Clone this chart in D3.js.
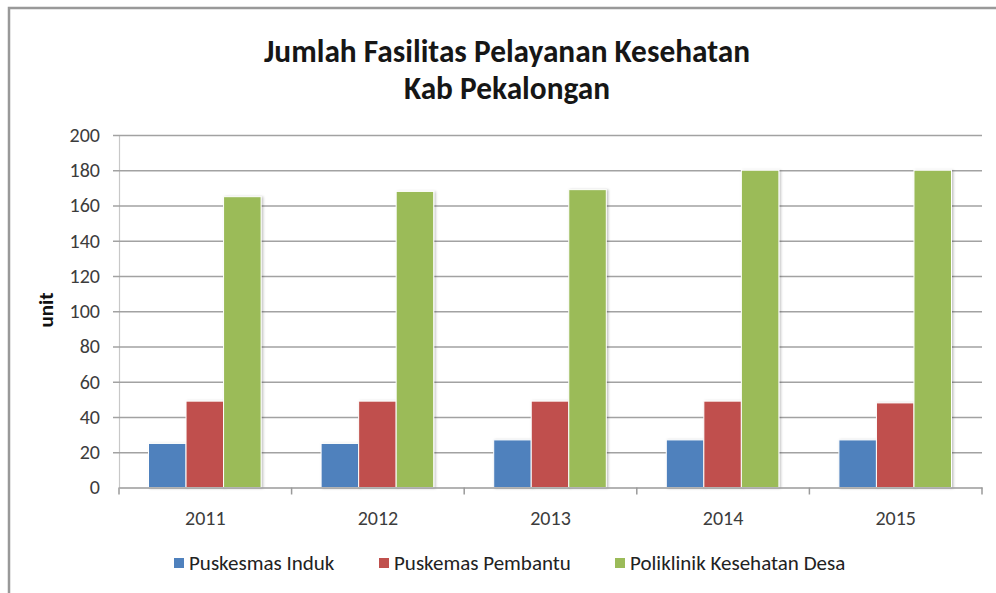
<!DOCTYPE html>
<html>
<head>
<meta charset="utf-8">
<script src="https://cdn.jsdelivr.net/npm/d3@7"></script>
<style>
  html, body { margin: 0; padding: 0; background: #fff; }
  svg { display: block; }
  text { font-family: Carlito, Lato, "Open Sans", sans-serif; }
</style>
</head>
<body>
<div id="chart"></div>
<script>
// data
const years = ["2011", "2012", "2013", "2014", "2015"];
const seriesNames = ["Puskesmas Induk", "Puskemas Pembantu", "Poliklinik Kesehatan Desa"];
const puskesmasInduk = [25, 25, 27, 27, 27];
const puskemasPembantu = [49, 49, 49, 49, 48];
const poliklinikDesa = [165, 168, 169, 180, 180];
const yTicks = [0, 20, 40, 60, 80, 100, 120, 140, 160, 180, 200];
const titleLines = ["Jumlah Fasilitas Pelayanan Kesehatan", "Kab Pekalongan"];
const yAxisLabel = "unit";

const seriesColors = ["#4F81BD", "#C0504D", "#9BBB59"];

const WIDTH = 996;
const HEIGHT = 593;
const PLOT_LEFT = 119;
const PLOT_RIGHT = 982;
const PLOT_TOP = 135;
const PLOT_BOTTOM = 487.5;

const svg = d3.select("#chart")
    .append("svg")
    .attr("width", WIDTH)
    .attr("height", HEIGHT);

svg.append("rect")
    .attr("width", WIDTH)
    .attr("height", HEIGHT)
    .attr("fill", "#fff");

// soft shadow like the office chart
const defs = svg.append("defs");
defs.append("filter")
    .attr("id", "shadow")
    .attr("x", "-20%").attr("y", "-5%")
    .attr("width", "150%").attr("height", "115%")
    .append("feDropShadow")
    .attr("dx", 1.5).attr("dy", 0.5)
    .attr("stdDeviation", 1)
    .attr("flood-color", "#000")
    .attr("flood-opacity", 0.25);

// outer chart frame (cropped on right and bottom)
svg.append("path")
    .attr("d", `M9,${HEIGHT} L9,8 L${WIDTH},8`)
    .attr("fill", "none")
    .attr("stroke", "#999")
    .attr("stroke-width", 2.5);

// title
const title = svg.append("g").attr("class", "title");
const titleText = title.selectAll("text")
    .data(titleLines)
    .join("text")
    .attr("x", 507)
    .attr("y", (d, i) => 62 + i * 37)
    .attr("text-anchor", "middle")
    .attr("font-size", 32)
    .attr("font-weight", "bold")
    .attr("fill", "#161616")
    .text(d => d);
// the source font is a narrow one; squeeze to the same width
const naturalWidth = titleText.node().getComputedTextLength();
const squeeze = 486 / naturalWidth;
titleText.each(function () {
    const w = this.getComputedTextLength();
    d3.select(this)
        .attr("textLength", w * squeeze)
        .attr("lengthAdjust", "spacingAndGlyphs");
});

// scales
const x0 = d3.scaleBand()
    .domain(years)
    .range([PLOT_LEFT, PLOT_RIGHT])
    .padding(0);

const x1 = d3.scaleBand()
    .domain(seriesNames)
    .range([29.5, x0.bandwidth() - 30.5])
    .padding(0);

const y = d3.scaleLinear()
    .domain([0, 200])
    .range([PLOT_BOTTOM, PLOT_TOP]);

// gridlines + y axis
const yAxis = svg.append("g")
    .attr("transform", `translate(${PLOT_LEFT},0)`)
    .call(d3.axisLeft(y)
        .tickValues(yTicks)
        .tickSize(-(PLOT_RIGHT - PLOT_LEFT))
        .tickSizeOuter(0)
        .tickPadding(19));
yAxis.select(".domain")
    .attr("stroke", "#c8c8c8")
    .attr("stroke-width", 1.2);
yAxis.selectAll(".tick line")
    .attr("x1", -6)
    .attr("stroke", d => d === 0 ? "none" : "#a2a2a2")
    .attr("stroke-width", 1.6);
yAxis.selectAll(".tick text")
    .attr("font-size", 20)
    .attr("fill", "#3c3c3c");

// y axis title
svg.append("text")
    .attr("transform", "translate(53,310) rotate(-90)")
    .attr("text-anchor", "middle")
    .attr("font-size", 21)
    .attr("font-weight", "bold")
    .attr("fill", "#111")
    .text(yAxisLabel);

// bars
const seriesData = [puskesmasInduk, puskemasPembantu, poliklinikDesa];
const groups = svg.append("g")
    .selectAll("g")
    .data(years)
    .join("g")
    .attr("transform", d => `translate(${x0(d)},0)`);

groups.selectAll("rect")
    .data((yr, i) => seriesNames.map((name, s) => ({name, s, value: seriesData[s][i]})))
    .join("rect")
    .attr("x", d => x1(d.name))
    .attr("y", d => y(d.value))
    .attr("width", x1.bandwidth())
    .attr("height", d => PLOT_BOTTOM - y(d.value))
    .attr("fill", d => seriesColors[d.s])
    .attr("stroke", "#fff")
    .attr("stroke-width", 1)
    .attr("filter", "url(#shadow)");

// x axis
const xAxis = svg.append("g")
    .attr("transform", `translate(0,${PLOT_BOTTOM})`)
    .call(d3.axisBottom(x0).tickSize(0).tickPadding(23));
xAxis.select(".domain")
    .attr("stroke", "#9a9a9a")
    .attr("stroke-width", 1.5);
xAxis.selectAll(".tick text")
    .attr("font-size", 20)
    .attr("fill", "#3c3c3c");
// category separators
xAxis.append("g")
    .selectAll("line")
    .data(years.map(d => x0(d)).concat([x0.range()[1]]))
    .join("line")
    .attr("x1", d => d).attr("x2", d => d)
    .attr("y1", 0).attr("y2", 7)
    .attr("stroke", "#9a9a9a")
    .attr("stroke-width", 1.5);

// legend
const legendX = [174, 379, 615];
const legend = svg.append("g")
    .selectAll("g")
    .data(seriesNames)
    .join("g")
    .attr("transform", (d, i) => `translate(${legendX[i]},563)`);
legend.append("rect")
    .attr("x", 0).attr("y", -5)
    .attr("width", 10).attr("height", 10)
    .attr("fill", (d, i) => seriesColors[i]);
legend.append("text")
    .attr("x", 15)
    .attr("y", 7)
    .attr("font-size", 21)
    .attr("fill", "#222")
    .text(d => d);
</script>
</body>
</html>
